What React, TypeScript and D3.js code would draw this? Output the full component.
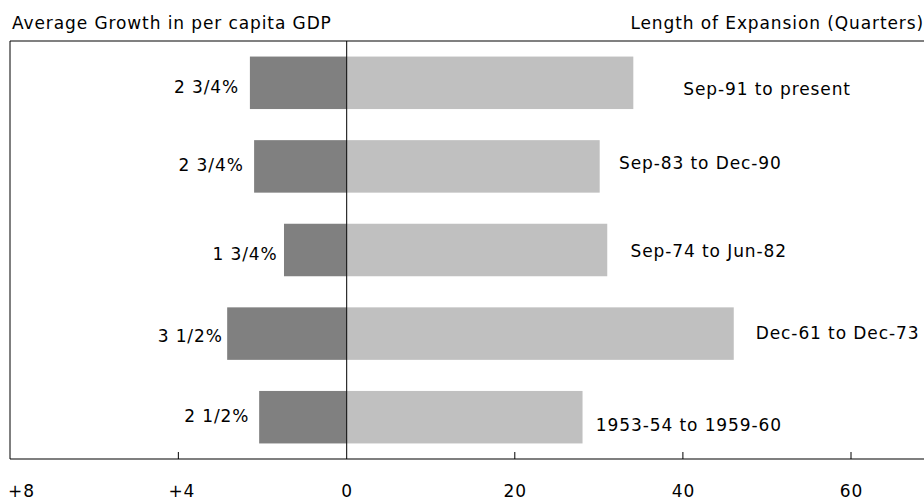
import React from "react";
import * as d3 from "d3";

// ---- data ----
const periods = [
  "Sep-91 to present",
  "Sep-83 to Dec-90",
  "Sep-74 to Jun-82",
  "Dec-61 to Dec-73",
  "1953-54 to 1959-60",
];
const growthLabels = ["2 3/4%", "2 3/4%", "1 3/4%", "3 1/2%", "2 1/2%"];
const growthBar = [2.3, 2.2, 1.49, 2.84, 2.08];
const quarters = [34.1, 30.1, 31.0, 46.05, 28.06];
const leftTicks = [8, 4, 0];
const leftTickLabels = ["+8", "+4", "0"];
const rightTicks = [20, 40, 60];
const rightTickLabels = ["20", "40", "60"];
const leftTitle = "Average Growth in per capita GDP";
const rightTitle = "Length of Expansion (Quarters)";

// ---- layout (hand-placed label nudges, px) ----
const leftLabelNudge = [
  [-11.7, 10],
  [-11.3, 4.5],
  [-7.3, 9.5],
  [-5.3, 8],
  [-10.7, 4.5],
];
const rightLabelNudge = [
  [50, 11.7],
  [19.3, 2.8],
  [23.3, 7.2],
  [22, 5.5],
  [13.3, 13.8],
];

const W = 924;
const H = 502;
const X0 = 346.7;
const TOP = 41;
const BOTTOM = 459;
const LEFT = 10;
const FONT = "'DejaVu Sans', Verdana, sans-serif";
const FS = 17;
const LS = 0.9;

export default function App() {
  const xLeft = d3.scaleLinear().domain([0, 8]).range([X0, LEFT]);
  const xRight = d3.scaleLinear().domain([0, 60]).range([X0, X0 + 60 * 8.405]);
  const y = d3
    .scaleBand<string>()
    .domain(periods)
    .range([TOP, BOTTOM])
    .paddingInner(0.372)
    .paddingOuter(0.186);
  const bw = y.bandwidth();
  const rightEnd = xRight(70);

  const textProps = {
    fontFamily: FONT,
    fontSize: FS,
    letterSpacing: LS,
    fill: "#000",
  };

  return (
    <svg
      width={W}
      height={H}
      style={{ position: "absolute", left: 0, top: 0, display: "block" }}
    >
      <rect x={0} y={0} width={W} height={H} fill="#fff" />
      {/* titles */}
      <text x={LEFT + 2} y={29} {...textProps}>
        {leftTitle}
      </text>
      <text x={W} y={29} textAnchor="end" {...textProps}>
        {rightTitle}
      </text>

      {/* bars */}
      {periods.map((p, i) => {
        const yy = y(p)!;
        return (
          <g key={p}>
            <rect
              x={xLeft(growthBar[i])}
              y={yy}
              width={X0 - xLeft(growthBar[i])}
              height={bw}
              fill="#808080"
            />
            <rect
              x={X0}
              y={yy}
              width={xRight(quarters[i]) - X0}
              height={bw}
              fill="#c0c0c0"
            />
            <text
              x={xLeft(growthBar[i]) + leftLabelNudge[i][0] + LS}
              y={yy + bw / 2 + leftLabelNudge[i][1]}
              textAnchor="end"
              {...textProps}
            >
              {growthLabels[i]}
            </text>
            <text
              x={xRight(quarters[i]) + rightLabelNudge[i][0]}
              y={yy + bw / 2 + rightLabelNudge[i][1]}
              {...textProps}
            >
              {p}
            </text>
          </g>
        );
      })}

      {/* frame */}
      <line x1={LEFT} x2={rightEnd} y1={TOP} y2={TOP} stroke="#808080" strokeWidth={2.2} />
      <line x1={LEFT} x2={LEFT} y1={TOP} y2={BOTTOM} stroke="#000" strokeWidth={1} />
      <line x1={X0} x2={X0} y1={TOP} y2={BOTTOM} stroke="#000" strokeWidth={1} />
      <line x1={LEFT} x2={rightEnd} y1={BOTTOM} y2={BOTTOM} stroke="#000" strokeWidth={1.2} />

      {/* left ticks */}
      {leftTicks.map((t, i) => (
        <g key={"l" + t}>
          {t !== 0 && t !== 8 && (
            <line x1={xLeft(t)} x2={xLeft(t)} y1={BOTTOM - 7} y2={BOTTOM} stroke="#000" />
          )}
          <text
            x={t === 8 ? 8 : xLeft(t) + (t === 0 ? 0.5 : 3.5)}
            y={496.5}
            textAnchor={t === 8 ? "start" : "middle"}
            {...textProps}
          >
            {leftTickLabels[i]}
          </text>
        </g>
      ))}
      {/* right ticks */}
      {rightTicks.map((t, i) => (
        <g key={"r" + t}>
          <line x1={xRight(t)} x2={xRight(t)} y1={BOTTOM - 7} y2={BOTTOM} stroke="#000" />
          <text x={xRight(t) + 0.5} y={496.5} textAnchor="middle" {...textProps}>
            {rightTickLabels[i]}
          </text>
        </g>
      ))}
    </svg>
  );
}
